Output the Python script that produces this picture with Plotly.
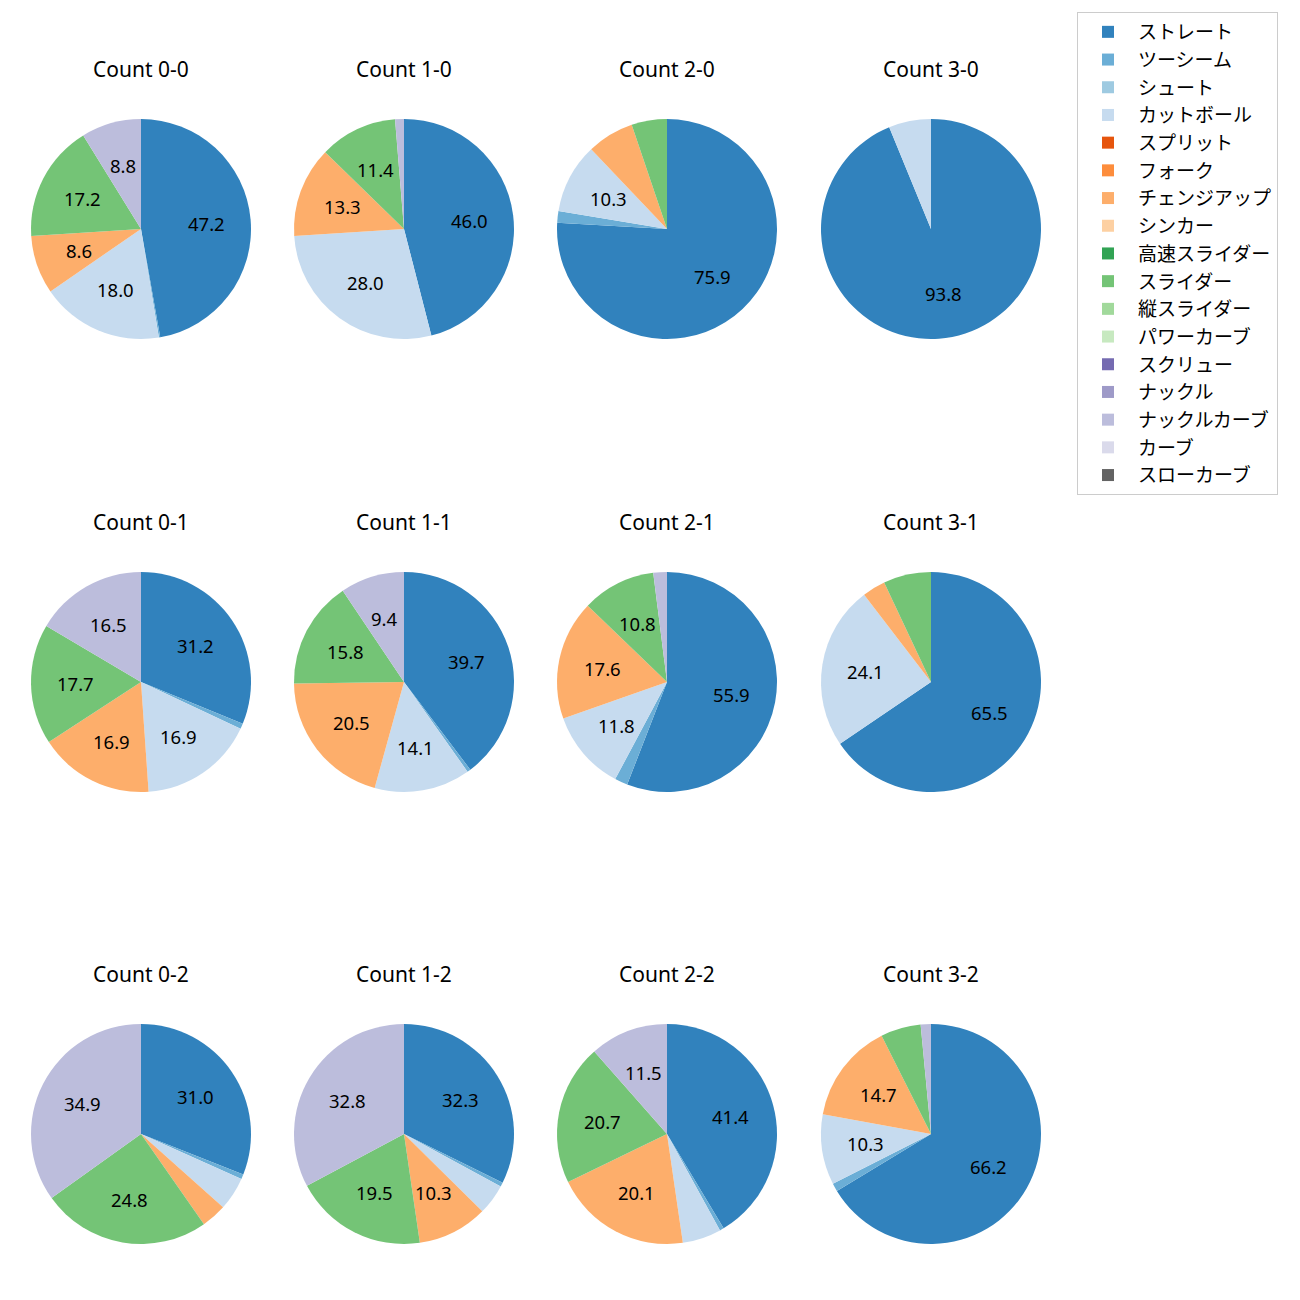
import math
import plotly.graph_objects as go

pitch_types = ["ストレート", "ツーシーム", "シュート", "カットボール", "スプリット", "フォーク",
               "チェンジアップ", "シンカー", "高速スライダー", "スライダー", "縦スライダー",
               "パワーカーブ", "スクリュー", "ナックル", "ナックルカーブ", "カーブ", "スローカーブ"]
colors = ["#3182bd", "#6baed6", "#9ecae1", "#c6dbef", "#e6550d", "#fd8d3c", "#fdae6b", "#fdd0a2",
          "#31a354", "#74c476", "#a1d99b", "#c7e9c0", "#756bb1", "#9e9ac8", "#bcbddc", "#dadaeb",
          "#636363"]

counts = ["0-0", "1-0", "2-0", "3-0", "0-1", "1-1", "2-1", "3-1", "0-2", "1-2", "2-2", "3-2"]

# values per count, in pitch_types order
c_0_0 = [47.2, 0.2, 0, 18.0, 0, 0, 8.6, 0, 0, 17.2, 0, 0, 0, 0, 8.8, 0, 0]
c_1_0 = [46.0, 0, 0, 28.0, 0, 0, 13.3, 0, 0, 11.4, 0, 0, 0, 0, 1.3, 0, 0]
c_2_0 = [75.9, 1.7, 0, 10.3, 0, 0, 6.9, 0, 0, 5.2, 0, 0, 0, 0, 0, 0, 0]
c_3_0 = [93.8, 0, 0, 6.2, 0, 0, 0, 0, 0, 0, 0, 0, 0, 0, 0, 0, 0]
c_0_1 = [31.2, 0.8, 0, 16.9, 0, 0, 16.9, 0, 0, 17.7, 0, 0, 0, 0, 16.5, 0, 0]
c_1_1 = [39.7, 0.5, 0, 14.1, 0, 0, 20.5, 0, 0, 15.8, 0, 0, 0, 0, 9.4, 0, 0]
c_2_1 = [55.9, 1.9, 0, 11.8, 0, 0, 17.6, 0, 0, 10.8, 0, 0, 0, 0, 2.0, 0, 0]
c_3_1 = [65.5, 0, 0, 24.1, 0, 0, 3.4, 0, 0, 7.0, 0, 0, 0, 0, 0, 0, 0]
c_0_2 = [31.0, 0.7, 0, 4.9, 0, 0, 3.7, 0, 0, 24.8, 0, 0, 0, 0, 34.9, 0, 0]
c_1_2 = [32.3, 0.6, 0, 4.5, 0, 0, 10.3, 0, 0, 19.5, 0, 0, 0, 0, 32.8, 0, 0]
c_2_2 = [41.4, 0.6, 0, 5.7, 0, 0, 20.1, 0, 0, 20.7, 0, 0, 0, 0, 11.5, 0, 0]
c_3_2 = [66.2, 1.2, 0, 10.3, 0, 0, 14.7, 0, 0, 5.9, 0, 0, 0, 0, 1.5, 0, 0]

all_values = [c_0_0, c_1_0, c_2_0, c_3_0, c_0_1, c_1_1, c_2_1, c_3_1, c_0_2, c_1_2, c_2_2, c_3_2]

W = H = 1300
OFF = 8  # page body margin
col_cx = [141 - OFF, 404 - OFF, 667 - OFF, 931 - OFF]
row_cy = [229 - OFF, 682 - OFF, 1134 - OFF]
R = 110
title_dy = 160
LABEL_FONT = "Noto Sans, Noto Sans CJK JP, sans-serif"

fig = go.Figure()
annotations = []
for i, (cnt, vals) in enumerate(zip(counts, all_values)):
    r, c = divmod(i, 4)
    cx, cy = col_cx[c], row_cy[r]
    fig.add_trace(go.Pie(
        labels=pitch_types, values=vals, textinfo="none",
        sort=False, direction="clockwise", rotation=0,
        marker=dict(colors=colors, line=dict(width=0)),
        domain=dict(x=[(cx - R) / W, (cx + R) / W], y=[1 - (cy + R) / H, 1 - (cy - R) / H]),
        showlegend=(i == 0), hoverinfo="label+value",
    ))
    annotations.append(dict(text=f"Count {cnt}", x=cx / W, y=1 - (cy - title_dy) / H,
                            xref="paper", yref="paper", showarrow=False,
                            font=dict(size=21, color="black", family=LABEL_FONT),
                            xanchor="center", yanchor="middle"))
    # percentage labels at 0.6 radius of each slice's mid-angle (autopct style)
    total = sum(vals)
    cum = 0.0
    for v in vals:
        if v >= 8:
            mid = (cum + v / 2) / total * 2 * math.pi
            px = cx + 0.6 * R * math.sin(mid)
            py = cy - 0.6 * R * math.cos(mid)
            annotations.append(dict(text=f"{v:.1f}", x=px / W, y=1 - py / H,
                                    xref="paper", yref="paper", showarrow=False,
                                    font=dict(size=18.5, color="black", family=LABEL_FONT),
                                    xanchor="center", yanchor="middle"))
        cum += v

fig.update_layout(
    width=W, height=H, margin=dict(l=0, r=0, t=0, b=0),
    paper_bgcolor="white", plot_bgcolor="white",
    annotations=annotations,
    legend=dict(x=(1077 - OFF) / W, y=1 - (12 - OFF) / H, xanchor="left", yanchor="top",
                font=dict(size=19, family="Noto Sans CJK JP", color="black"),
                bordercolor="#cccccc", borderwidth=1, bgcolor="white",
                itemwidth=50, traceorder="normal"),
)
fig.write_html("out.html")
